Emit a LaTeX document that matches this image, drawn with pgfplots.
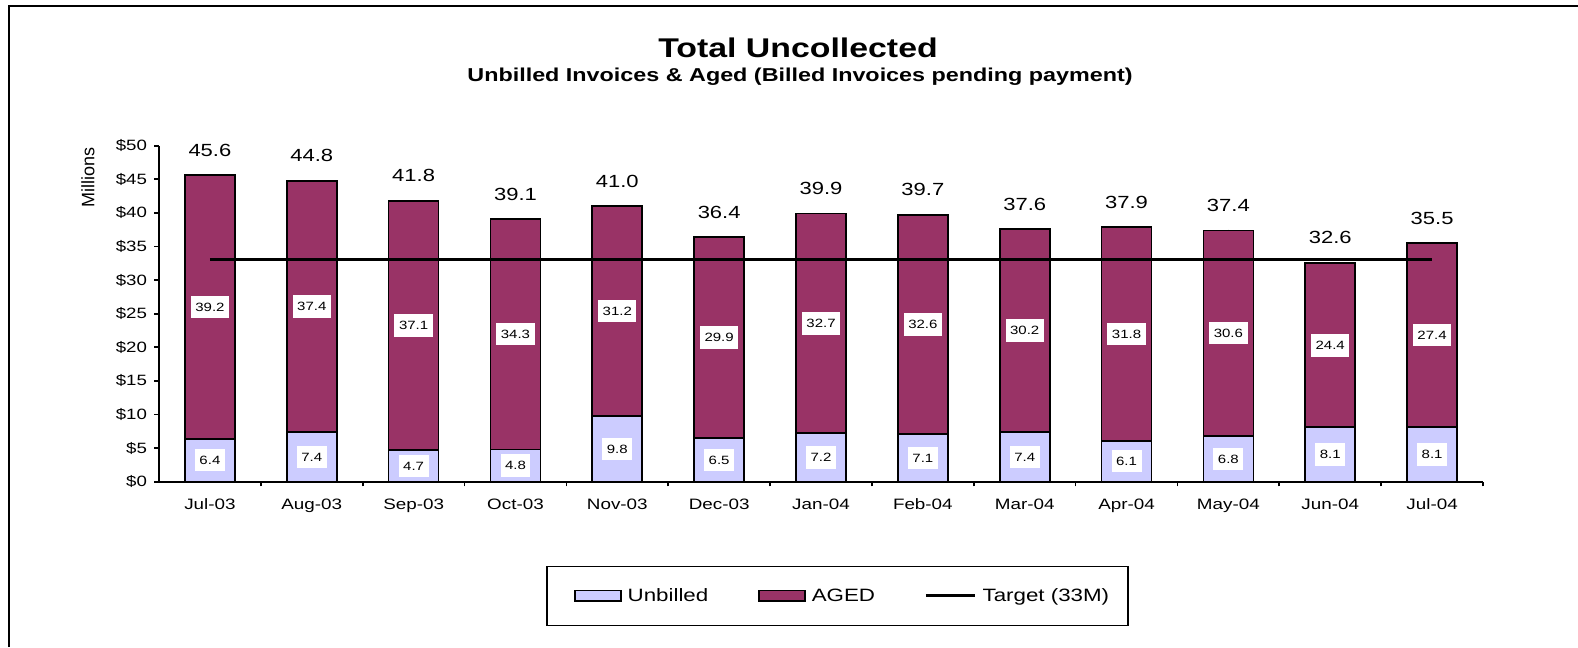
\documentclass[border=0pt]{standalone}
\usepackage{fontspec}
\setmainfont{Liberation Sans}[FakeStretch=1.25]
\newfontfamily\plainfont{Liberation Sans}
\usepackage{pgfplots}
\usepackage{pgfplotstable}
\pgfplotsset{compat=1.18}
\definecolor{unb}{HTML}{CCCCFF}
\definecolor{aged}{HTML}{993366}
\pgfplotsset{
  mybarlegend/.style={legend image code/.code={\path[draw=none,fill=none] (0pt,0pt) -- (11.2pt,0pt);\draw[##1, line width=1.2pt] (11.2pt,-4pt) rectangle (45.7pt,4pt);}},
  mylinelegend/.style={legend image code/.code={\path[draw=none,fill=none] (0pt,0pt) -- (11.2pt,0pt);\draw[##1] (11.2pt,0pt) -- (48.2pt,0pt);}},
}
\pgfplotstableread{
x unbilled aged total
0 6.4 39.2 45.6
1 7.4 37.4 44.8
2 4.7 37.1 41.8
3 4.8 34.3 39.1
4 9.8 31.2 41.0
5 6.5 29.9 36.4
6 7.2 32.7 39.9
7 7.1 32.6 39.7
8 7.4 30.2 37.6
9 6.1 31.8 37.9
10 6.8 30.6 37.4
11 8.1 24.4 32.6
12 8.1 27.4 35.5
}\data
\pgfplotstableread{
x target
0 33
12 33
}\target
\begin{document}
\begin{tikzpicture}[x=0.75pt,y=0.75pt]
\path[use as bounding box] (0,0) rectangle (1578,647);
\draw[line width=1.5pt] (9,0) -- (9,641) -- (1578,641);
\node[anchor=base,font=\bfseries\fontsize{20.3}{22}\selectfont] at (798,589.3) {Total Uncollected};
\node[anchor=base,font=\bfseries\fontsize{14}{16}\selectfont] at (800,565.3) {Unbilled Invoices \& Aged (Billed Invoices pending payment)};
\begin{axis}[
  at={(119.25pt,123.975pt)}, anchor=south west,
  scale only axis, width=993pt, height=252pt,
  ybar stacked, bar width=37.5pt,
  xmin=-0.5, xmax=12.5, ymin=0, ymax=50,
  axis lines*=left,
  axis line style={line width=1.5pt},
  tick align=outside,
  ytick={0,5,...,50},
  yticklabels={\$0,\$5,\$10,\$15,\$20,\$25,\$30,\$35,\$40,\$45,\$50},
  xtick={0,...,12},
  xticklabels={Jul-03,Aug-03,Sep-03,Oct-03,Nov-03,Dec-03,Jan-04,Feb-04,Mar-04,Apr-04,May-04,Jun-04,Jul-04},
  minor xtick={0.5,1.5,...,12.5},
  major x tick style={draw=none},
  major tick length=3.5pt, minor tick length=3.5pt,
  y tick style={line width=1.3pt, black},
  minor x tick style={line width=1.3pt, black},
  yticklabel style={font=\fontsize{11.2}{13}\selectfont, xshift=-2pt},
  xticklabel style={font=\fontsize{11.3}{13}\selectfont, yshift=-6pt},
  ylabel={Millions},
  ylabel style={at={(axis description cs:-0.0536,0.904)}, anchor=center, font=\plainfont\fontsize{13.5}{15}\selectfont},
  legend columns=3,
  legend style={at={(0.5125,-0.340)}, anchor=center, draw=black, line width=1.2pt,
    font=\fontsize{13.4}{15}\selectfont, inner xsep=9.8pt, inner ysep=14.5pt,
    nodes={inner xsep=4.5pt},
    /tikz/column 2/.style={column sep=22.3pt},
    /tikz/column 4/.style={column sep=22.3pt}},
  clip=false,
]
\addplot[fill=unb, draw=black, line width=1.3pt, mybarlegend]
  table[x=x,y=unbilled]{\data};
\addlegendentry{Unbilled}
\addplot[fill=aged, draw=black, line width=1.3pt, mybarlegend]
  table[x=x,y=aged]{\data};
\addlegendentry{AGED}
\addlegendimage{black, line width=2.25pt, mylinelegend}
\addlegendentry{Target (33M)}
\end{axis}
\begin{axis}[
  at={(119.25pt,123.975pt)}, anchor=south west,
  scale only axis, width=993pt, height=252pt,
  xmin=-0.5, xmax=12.5, ymin=0, ymax=50,
  hide axis, clip=false,
]
\addplot[black, line width=2.25pt] table[x=x,y=target]{\target};
\addplot[only marks, mark=*, mark size=0.1pt, mark options={draw=none,fill=none},
  nodes near coords, point meta=explicit symbolic,
  every node near coord/.style={anchor=center, fill=white, inner xsep=3.4pt, inner ysep=5.2pt, text height=6.5pt, text depth=0pt, font=\fontsize{9}{10}\selectfont}]
  table[x=x, y expr=\thisrow{unbilled}/2, meta=unbilled]{\data};
\addplot[only marks, mark=*, mark size=0.1pt, mark options={draw=none,fill=none},
  nodes near coords, point meta=explicit symbolic,
  every node near coord/.style={anchor=center, fill=white, inner xsep=3.4pt, inner ysep=5.2pt, text height=6.5pt, text depth=0pt, font=\fontsize{9}{10}\selectfont}]
  table[x=x, y expr=\thisrow{unbilled}+\thisrow{aged}/2, meta=aged]{\data};
\addplot[only marks, mark=*, mark size=0.1pt, mark options={draw=none,fill=none},
  nodes near coords, point meta=explicit symbolic,
  every node near coord/.style={anchor=center, yshift=18.75pt, font=\fontsize{13.2}{15}\selectfont}]
  table[x=x, y=total, meta=total]{\data};
\end{axis}
\end{tikzpicture}
\end{document}
